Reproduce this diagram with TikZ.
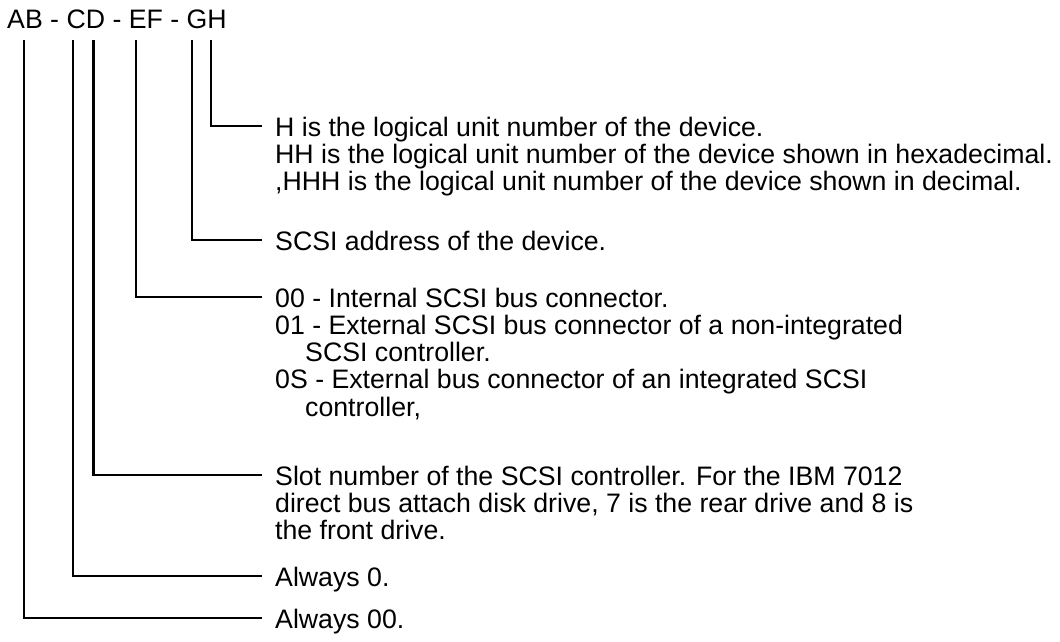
\documentclass[tikz,border=0pt]{standalone}
\usepackage{fontspec}
\setmainfont{Liberation Sans}
\usetikzlibrary{positioning}

\begin{document}
\begin{tikzpicture}[x=1pt,y=-1pt,
    txt/.style={inner sep=0pt, font=\fontsize{26.7}{27.3}\selectfont},
    desc/.style={txt, anchor=north west, align=left},
    lead/.style={line width=2.8pt}]
    \useasboundingbox (0,0) rectangle (1060,641);
    % the code and the tops of its leader lines
    \node[txt, anchor=base west] (code) at (7,28.5) {AB - CD - EF - GH};
    \coordinate (tA) at (24,40);  \coordinate (tC) at (73,40);
    \coordinate (tD) at (93.5,40);  \coordinate (tE) at (136,40);
    \coordinate (tG) at (192,40); \coordinate (tH) at (211,40);

    % what each part means
    \node[desc] (dH) at (275,116.5) {H is the logical unit number of the device.\\
        HH is the logical unit number of the device shown in hexadecimal.\\
        ,HHH is the logical unit number of the device shown in decimal.};
    \node[desc] (dG) at (275,230.5) {SCSI address of the device.};
    \node[desc] (dE) at (275,287.5) {00 - Internal SCSI bus connector.\\
        01 - External SCSI bus connector of a non-integrated\\
        \hspace*{30pt}SCSI controller.\\
        0S - External bus connector of an integrated SCSI\\
        \hspace*{30pt}controller,};
    \node[desc] (dD) at (275,465.5) {Slot number of the SCSI controller. For the IBM 7012\\
        direct bus attach disk drive, 7 is the rear drive and 8 is\\
        the front drive.};
    \node[desc] (dC) at (275,566.5) {Always 0.};
    \node[desc] (dA) at (275,608.5) {Always 00.};

    % leader lines
    \draw[lead] (tH) |- ([xshift=-13pt,yshift=-9.5pt]dH.north west);
    \draw[lead] (tG) |- ([xshift=-13pt,yshift=-9.5pt]dG.north west);
    \draw[lead] (tE) |- ([xshift=-13pt,yshift=-9.5pt]dE.north west);
    \draw[lead] (tD) |- ([xshift=-13pt,yshift=-9.5pt]dD.north west);
    \draw[lead] (tC) |- ([xshift=-13pt,yshift=-9.5pt]dC.north west);
    \draw[lead] (tA) |- ([xshift=-13pt,yshift=-9.5pt]dA.north west);
\end{tikzpicture}
\end{document}
